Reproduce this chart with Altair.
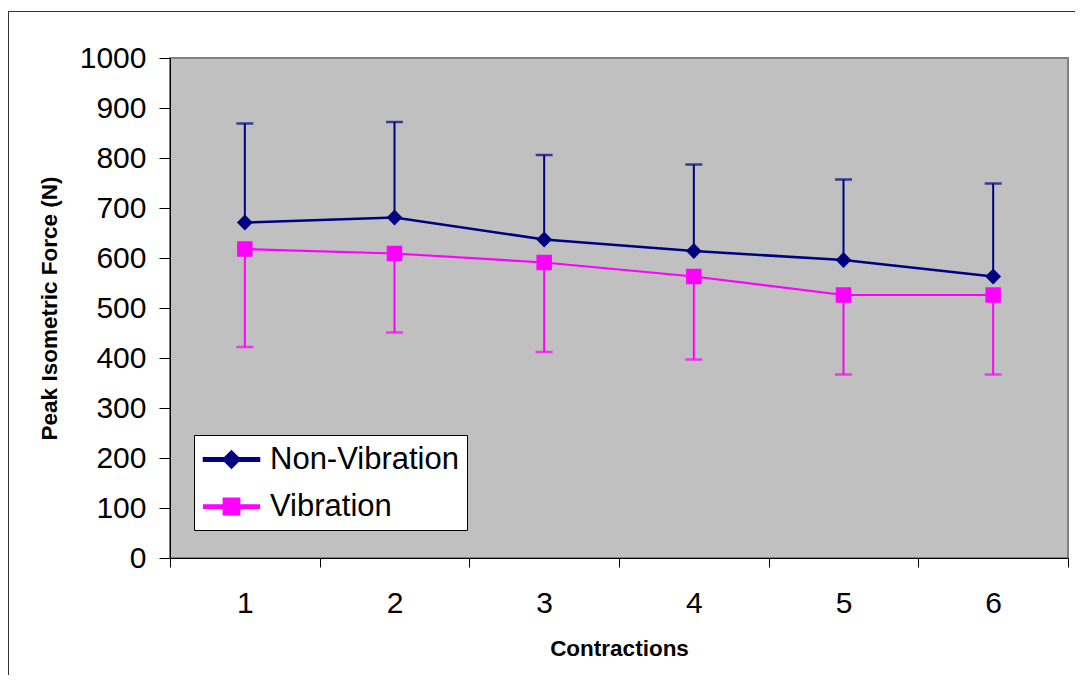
import altair as alt
import pandas as pd

contractions = [1, 2, 3, 4, 5, 6]
series_names = ["Non-Vibration", "Vibration"]
nonvib_mean = [671, 681, 637, 614, 596, 563]
nonvib_err_end = [869, 872, 806, 787, 757, 749]
vib_mean = [618, 609, 591, 563, 526, 526]
vib_err_end = [422, 451, 412, 397, 367, 367]
y_ticks = [0, 100, 200, 300, 400, 500, 600, 700, 800, 900, 1000]
x_ticks = [0.5, 1, 1.5, 2, 2.5, 3, 3.5, 4, 4.5, 5, 5.5, 6, 6.5]

rows = []
for c, m, e in zip(contractions, nonvib_mean, nonvib_err_end):
    rows.append({"contraction": c, "series": series_names[0], "mean": m, "err": e})
for c, m, e in zip(contractions, vib_mean, vib_err_end):
    rows.append({"contraction": c, "series": series_names[1], "mean": m, "err": e})
df = pd.DataFrame(rows)

FONT = "Liberation Sans"
colors = ["#000080", "#FF00FF"]

xenc = alt.X(
    "contraction:Q",
    scale=alt.Scale(domain=[0.5, 6.5], nice=False, zero=False),
    axis=alt.Axis(
        values=x_ticks,
        labelExpr="datum.value % 1 == 0 ? toString(datum.value) : ''",
        labelOverlap=False,
        tickOpacity={"condition": {"test": "datum.value % 1 == 0", "value": 0}, "value": 1},
        tickSize=9,
        tickColor="#000000",
        domainColor="#000000",
        labelFont=FONT,
        labelFontSize=30,
        labelColor="#000000",
        labelPadding=21,
        title="Contractions",
        titleFont=FONT,
        titleFontSize=22.5,
        titleFontWeight="bold",
        titleColor="#000000",
        titlePadding=19,
        grid=False,
        zindex=1,
    ),
)
yaxis = alt.Axis(
    values=y_ticks,
    format="d",
    labelOverlap=False,
    tickSize=11,
    tickColor="#000000",
    domainColor="#000000",
    labelFont=FONT,
    labelFontSize=30,
    labelColor="#000000",
    labelPadding=13,
    title="Peak Isometric Force (N)",
    titleFont=FONT,
    titleFontSize=22.5,
    titleFontWeight="bold",
    titleColor="#000000",
    titlePadding=18,
    grid=False,
    zindex=1,
)
yscale = alt.Scale(domain=[0, 1000], nice=False)
color_scale = alt.Scale(domain=series_names, range=colors)

line_w = "M-1.833,-0.085L1.833,-0.085L1.833,0.085L-1.833,0.085Z"
legend_shapes = [
    line_w + "M0,-0.53L0.53,0L0,0.53L-0.53,0Z",
    line_w + "M-0.52,-0.52L0.52,-0.52L0.52,0.52L-0.52,0.52Z",
]

legend = alt.Legend(
    title=None,
    orient="none",
    legendX=24,
    legendY=377,
    fillColor="white",
    strokeColor="#000000",
    padding=8,
    labelFont=FONT,
    labelFontSize=31,
    labelColor="#000000",
    labelLimit=500,
    labelOffset=22,
    symbolOffset=13,
    symbolSize=900,
    symbolOpacity=1,
    symbolStrokeWidth=0,
    rowPadding=15,
)
color_enc = alt.Color("series:N", scale=color_scale, legend=legend)

base = alt.Chart(df).encode(x=xenc)

errs = base.mark_rule(strokeWidth=2).encode(
    y=alt.Y("mean:Q", scale=yscale, axis=yaxis),
    y2="err:Q",
    color=color_enc,
)
caps = base.mark_tick(orient="horizontal", size=17, thickness=2.5).encode(
    y=alt.Y("err:Q", scale=yscale),
    color=color_enc,
)
lines = base.mark_line().encode(
    y=alt.Y("mean:Q", scale=yscale),
    color=color_enc,
    strokeWidth=alt.StrokeWidth("series:N", scale=alt.Scale(domain=series_names, range=[2.6, 2.2]), legend=None),
)
pts_nv = base.transform_filter(alt.datum.series == series_names[0]).mark_point(
    filled=True, opacity=1, size=250, shape="diamond"
).encode(y=alt.Y("mean:Q", scale=yscale), color=color_enc)
pts_v = base.transform_filter(alt.datum.series == series_names[1]).mark_point(
    filled=True, opacity=1, size=240, shape="square"
).encode(y=alt.Y("mean:Q", scale=yscale), color=color_enc)

legend_layer = base.mark_point(filled=True, opacity=0, size=10).encode(
    y=alt.Y("mean:Q", scale=yscale),
    color=color_enc,
    shape=alt.Shape("series:N", scale=alt.Scale(domain=series_names, range=legend_shapes), legend=legend),
)

border_df = pd.DataFrame({"b": [1]})
border_left = alt.Chart(border_df).mark_rule(color="#333333", strokeWidth=1, clip=False).encode(
    x=alt.value(-161.5), y=alt.value(-47), y2=alt.value(640)
)
border_top = alt.Chart(border_df).mark_rule(color="#333333", strokeWidth=1, clip=False).encode(
    x=alt.value(-161.5), x2=alt.value(920), y=alt.value(-46.5)
)

chart = (
    alt.layer(errs, caps, lines, pts_nv, pts_v, legend_layer, border_left, border_top)
    .properties(
        width=898,
        height=500,
        autosize=alt.AutoSizeParams(type="none"),
        padding={"left": 162, "top": 50, "right": 7, "bottom": 117},
        background="white",
    )
    .configure_view(fill="#C0C0C0", stroke="#808080", strokeWidth=2)
)

chart.save("out.html", embed_options={"renderer": "svg", "actions": False})
